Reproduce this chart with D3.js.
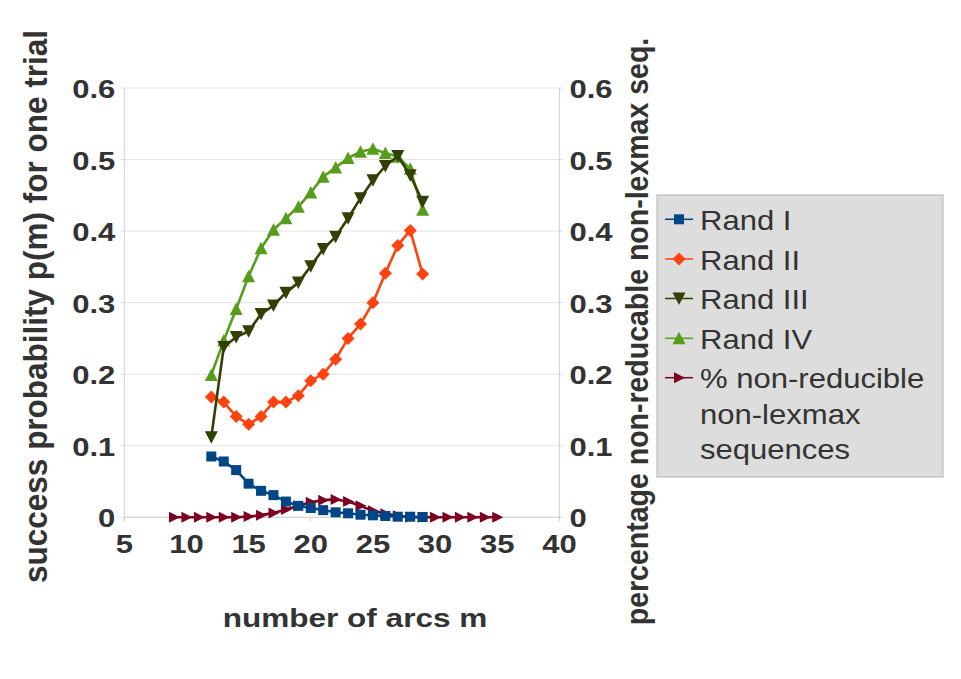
<!DOCTYPE html>
<html>
<head>
<meta charset="utf-8">
<script src="https://cdn.jsdelivr.net/npm/d3@7"></script>
<style>
  body { margin: 0; background: #fff; }
  svg text { font-family: "Liberation Sans", Arial, sans-serif; fill: #333333; }
  .tick-label { font-size: 26.5px; font-weight: bold; }
  .axis-title { font-weight: bold; }
  .legend-text { font-size: 27px; }
</style>
</head>
<body>
<script>
// arcs m for the four random generators
var arcs = [12, 13, 14, 15, 16, 17, 18, 19, 20, 21, 22, 23, 24, 25, 26, 27, 28, 29];
var randI   = [0.085, 0.078, 0.066, 0.047, 0.037, 0.031, 0.022, 0.016, 0.013, 0.010, 0.007, 0.0056, 0.0036, 0.0028, 0.0018, 0.0008, 0.0008, 0.0004];
var randII  = [0.168, 0.161, 0.141, 0.130, 0.141, 0.161, 0.161, 0.170, 0.191, 0.200, 0.221, 0.250, 0.270, 0.300, 0.341, 0.380, 0.401, 0.340];
var randIII = [0.112, 0.238, 0.252, 0.260, 0.284, 0.296, 0.314, 0.328, 0.351, 0.375, 0.392, 0.418, 0.446, 0.471, 0.491, 0.505, 0.478, 0.441];
var randIV  = [0.199, 0.247, 0.291, 0.337, 0.376, 0.402, 0.418, 0.434, 0.454, 0.476, 0.489, 0.502, 0.511, 0.515, 0.509, 0.504, 0.487, 0.430];

// percentage of non-reducible non-lexmax sequences (right axis)
var pctArcs = [9, 10, 11, 12, 13, 14, 15, 16, 17, 18, 19, 20, 21, 22, 23, 24, 25, 26, 27, 28, 29, 30, 31, 32, 33, 34, 35];
var pctNonRed = [0, 0, 0, 0, 0, 0, 0.001, 0.003, 0.006, 0.011, 0.016, 0.021, 0.024, 0.025, 0.022, 0.016, 0.009, 0.005, 0.002, 0, 0, 0, 0, 0, 0, 0, 0];

var xTicks = [5, 10, 15, 20, 25, 30, 35, 40];
var yTicks = [0, 0.1, 0.2, 0.3, 0.4, 0.5, 0.6];

var seriesNames = ["Rand I", "Rand II", "Rand III", "Rand IV", "% non-reducible"];
var seriesColors = ["#004586", "#ff420e", "#314004", "#579d1c", "#7e0021"];
var seriesMarkers = ["square", "diamond", "down", "up", "right"];

function init() {
    var W = 961, H = 679;
    var left = 124.3, right = 559.4, top = 88, bottom = 517.3;
    var sx = 1.17; // glyphs in the original are a bit wider than Liberation Sans

    var svg = d3.select("body").append("svg")
        .attr("width", W)
        .attr("height", H);

    var xScale = d3.scaleLinear().domain([5, 40]).range([left, right]);
    var yScale = d3.scaleLinear().domain([0, 0.6]).range([bottom, top]);
    var yScaleR = d3.scaleLinear().domain([0, 0.6]).range([bottom, top]); // right axis, same range

    // horizontal text with a bit of x-stretch
    function hText(g, x, y, str, cls, anchor, k) {
        return g.append("text")
            .attr("class", cls)
            .attr("transform", "translate(" + x + "," + y + ") scale(" + k + ",1)")
            .attr("text-anchor", anchor)
            .text(str);
    }

    // grid lines
    svg.append("g")
        .selectAll("line")
        .data(yTicks)
        .enter().append("line")
        .attr("x1", left - 4)
        .attr("x2", right + 4)
        .attr("y1", function(d) { return yScale(d); })
        .attr("y2", function(d) { return yScale(d); })
        .attr("stroke", "#e3e3e3")
        .attr("stroke-width", 1);

    // axis lines
    svg.append("line").attr("x1", left).attr("x2", left).attr("y1", top).attr("y2", bottom + 4)
        .attr("stroke", "#d0d0d0");
    svg.append("line").attr("x1", right).attr("x2", right).attr("y1", top).attr("y2", bottom + 4)
        .attr("stroke", "#d0d0d0");
    svg.append("line").attr("x1", left).attr("x2", right).attr("y1", bottom).attr("y2", bottom)
        .attr("stroke", "#d0d0d0");

    // x ticks
    svg.append("g").selectAll("line")
        .data(xTicks).enter().append("line")
        .attr("x1", function(d) { return xScale(d); })
        .attr("x2", function(d) { return xScale(d); })
        .attr("y1", bottom).attr("y2", bottom + 4)
        .attr("stroke", "#d0d0d0");

    var gx = svg.append("g");
    xTicks.forEach(function(d) {
        hText(gx, xScale(d), bottom + 36, d, "tick-label", "middle", sx);
    });

    // left and right tick labels
    var gy = svg.append("g");
    yTicks.forEach(function(d) {
        var lab = d === 0 ? "0" : d.toFixed(1);
        hText(gy, left - 9, yScale(d) + 10, lab, "tick-label", "end", sx);
        hText(gy, right + 10, yScaleR(d) + 10, lab, "tick-label", "start", sx);
    });

    // axis titles
    svg.append("text")
        .attr("class", "axis-title")
        .style("font-size", "31.5px")
        .attr("transform", "translate(47,306.5) rotate(-90) scale(1,1.08)")
        .attr("text-anchor", "middle")
        .text("success probability p(m) for one trial");

    svg.append("text")
        .attr("class", "axis-title")
        .style("font-size", "28.5px")
        .attr("transform", "translate(648,331.5) rotate(-90) scale(1,1.08)")
        .attr("text-anchor", "middle")
        .text("percentage non-reducable non-lexmax seq.");

    hText(svg, 355, 627, "number of arcs m", "axis-title", "middle", 1.19)
        .style("font-size", "26.5px");

    // marker shapes
    function markerPath(kind) {
        if (kind === "square") return "M-5,-5H5V5H-5Z";
        if (kind === "diamond") return "M0,-6.5L6.5,0L0,6.5L-6.5,0Z";
        if (kind === "up") return "M0,-6.5L6.5,6L-6.5,6Z";
        if (kind === "down") return "M0,6.5L6.5,-6L-6.5,-6Z";
        if (kind === "right") return "M6,0L-5,-5.5L-5,5.5Z";
    }

    var series = [
        { x: arcs, y: randI, s: yScale },
        { x: arcs, y: randII, s: yScale },
        { x: arcs, y: randIII, s: yScale },
        { x: arcs, y: randIV, s: yScale },
        { x: pctArcs, y: pctNonRed, s: yScaleR }
    ];

    // draw in order so Rand III stays on top like the original
    var drawOrder = [4, 0, 1, 3, 2];
    drawOrder.forEach(function(i) {
        var sr = series[i];
        var pts = sr.x.map(function(v, k) { return [v, sr.y[k]]; });
        var line = d3.line()
            .x(function(d) { return xScale(d[0]); })
            .y(function(d) { return sr.s(d[1]); });
        svg.append("path")
            .datum(pts)
            .attr("d", line)
            .attr("fill", "none")
            .attr("stroke", seriesColors[i])
            .attr("stroke-width", 2.6)
            .attr("stroke-linejoin", "round");
        svg.append("g").selectAll("path")
            .data(pts).enter().append("path")
            .attr("d", markerPath(seriesMarkers[i]))
            .attr("transform", function(d) { return "translate(" + xScale(d[0]) + "," + sr.s(d[1]) + ")"; })
            .attr("fill", seriesColors[i]);
    });

    // legend
    var lg = svg.append("g");
    lg.append("rect")
        .attr("x", 657).attr("y", 195)
        .attr("width", 286).attr("height", 282)
        .attr("fill", "#dddddd")
        .attr("stroke", "#b3b3b3")
        .attr("stroke-width", 1);

    var rowY = [219.3, 259, 298.5, 338.3, 377.7];
    seriesNames.forEach(function(name, i) {
        lg.append("line")
            .attr("x1", 665).attr("x2", 693)
            .attr("y1", rowY[i]).attr("y2", rowY[i])
            .attr("stroke", seriesColors[i])
            .attr("stroke-width", 1.5);
        lg.append("path")
            .attr("d", markerPath(seriesMarkers[i]))
            .attr("transform", "translate(679," + rowY[i] + ")")
            .attr("fill", seriesColors[i]);
        hText(lg, 700, rowY[i] + 10.5, name, "legend-text", "start", 1.15);
    });
    hText(lg, 700, 423.5, "non-lexmax", "legend-text", "start", 1.15);
    hText(lg, 700, 458.5, "sequences", "legend-text", "start", 1.15);
}

window.onload = init;
</script>
</body>
</html>
